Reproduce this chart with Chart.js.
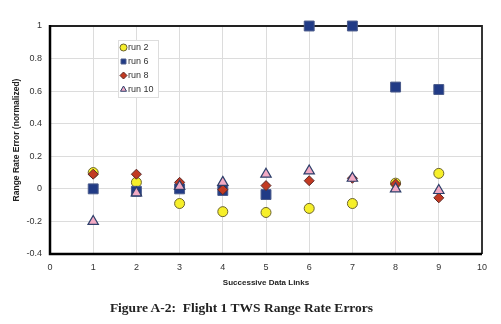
<!DOCTYPE html>
<html>
<head>
<meta charset="utf-8">
<script src="https://cdn.jsdelivr.net/npm/chart.js@4/dist/chart.umd.min.js"></script>
<style>
  body { margin: 0; background: #fff; }
  #wrap { position: relative; width: 501px; height: 324px; }
  #caption {
    position: absolute; left: 0; width: 483px; top: 300px;
    text-align: center; font: bold 13.5px "Liberation Serif", "Times New Roman", serif; color: #222;
  }
</style>
</head>
<body>
<div id="wrap">
  <canvas id="chart" width="501" height="324"></canvas>
  <div id="caption">Figure A-2:&nbsp; Flight 1 TWS Range Rate Errors</div>
</div>
<script>
// Данные.
const links = [1, 2, 3, 4, 5, 6, 7, 8, 9];
const run2 = [0.10, 0.04, -0.09, -0.14, -0.145, -0.12, -0.09, 0.035, 0.095];
const run6 = [0, -0.015, 0, -0.01, -0.035, 1, 1, 0.625, 0.61];
const run8 = [0.09, 0.09, 0.04, -0.005, 0.02, 0.05, 0.065, 0.03, -0.055];
const run10 = [-0.2, -0.025, 0.015, 0.04, 0.09, 0.11, 0.065, 0, -0.01];

const xTicks = [0, 1, 2, 3, 4, 5, 6, 7, 8, 9, 10];
const yTicks = [-0.4, -0.2, 0, 0.2, 0.4, 0.6, 0.8, 1];

function pts(values) {
  return links.map((x, i) => ({ x: x, y: values[i] }));
}

// Рамка графика.
const frame = {
  id: 'frame',
  beforeDatasetsDraw(chart) {
    const { ctx, chartArea: a } = chart;
    ctx.save();
    ctx.strokeStyle = '#222';
    ctx.lineWidth = 1.8;
    ctx.beginPath();
    ctx.moveTo(a.left, a.top);
    ctx.lineTo(a.right, a.top);
    ctx.lineTo(a.right, a.bottom);
    ctx.stroke();
    ctx.strokeStyle = '#000';
    ctx.lineWidth = 2.5;
    ctx.beginPath();
    ctx.moveTo(a.left, a.top - 1);
    ctx.lineTo(a.left, a.bottom);
    ctx.lineTo(a.right, a.bottom);
    ctx.stroke();
    ctx.restore();
  }
};

// Легенда внутри поля графика.
const boxLegend = {
  id: 'boxLegend',
  afterDraw(chart) {
    const { ctx } = chart;
    const x0 = 118, y0 = 40, w = 40, h = 57;
    ctx.save();
    ctx.fillStyle = '#fff';
    ctx.fillRect(x0, y0, w, h);
    ctx.strokeStyle = '#ddd';
    ctx.lineWidth = 1;
    ctx.strokeRect(x0 + 0.5, y0 + 0.5, w, h);
    ctx.font = '9px "Liberation Sans", Arial, sans-serif';
    ctx.textBaseline = 'middle';
    chart.data.datasets.forEach((ds, i) => {
      const y = y0 + 7.5 + i * 14;
      ctx.fillStyle = ds.backgroundColor;
      ctx.strokeStyle = ds.borderColor;
      ctx.lineWidth = 1;
      Chart.helpers.drawPoint(ctx, { pointStyle: ds.pointStyle, radius: 3.5, rotation: 0, borderWidth: 1 }, x0 + 5.5, y);
      ctx.fillStyle = '#333';
      ctx.fillText(ds.label, x0 + 10, y);
    });
    ctx.restore();
  }
};

const ctx = document.getElementById('chart').getContext('2d');
new Chart(ctx, {
  type: 'scatter',
  data: {
    datasets: [
      { label: 'run 2', data: pts(run2), pointStyle: 'circle', pointRadius: 5,
        backgroundColor: '#f6ef2a', borderColor: '#6b6330', borderWidth: 1, order: 4, clip: false },
      { label: 'run 6', data: pts(run6), pointStyle: 'rect', pointRadius: 7,
        backgroundColor: '#213b86', borderColor: '#4a5a8a', borderWidth: 1, order: 3, clip: false },
      { label: 'run 8', data: pts(run8), pointStyle: 'rectRot', pointRadius: 5,
        backgroundColor: '#c23a22', borderColor: '#5a2a2a', borderWidth: 1, order: 2, clip: false },
      { label: 'run 10', data: pts(run10), pointStyle: 'triangle', pointRadius: 6,
        backgroundColor: '#f2aac4', borderColor: '#2d3f6a', borderWidth: 1.2, order: 1, clip: false }
    ]
  },
  options: {
    responsive: false,
    animation: false,
    layout: { padding: { left: 0, top: 26, right: 19, bottom: 30 } },
    plugins: { legend: { display: false }, tooltip: { enabled: false } },
    scales: {
      x: {
        type: 'linear', min: 0, max: 10,
        afterFit(s) { s.height = 40; },
        afterBuildTicks(s) { s.ticks = xTicks.map(v => ({ value: v })); },
        border: { display: false },
        grid: { color: '#dcdcdc', drawTicks: false },
        ticks: { padding: 8, color: '#333', font: { size: 9, family: '"Liberation Sans", Arial, sans-serif' } },
        title: { display: true, text: 'Successive Data Links', color: '#222',
          padding: { bottom: 6 }, font: { size: 8, weight: 'bold', family: '"Liberation Sans", Arial, sans-serif' } }
      },
      y: {
        type: 'linear', min: -0.4, max: 1,
        afterFit(s) { s.width = 50; },
        afterBuildTicks(s) { s.ticks = yTicks.map(v => ({ value: v })); },
        border: { display: false },
        grid: { color: '#dcdcdc', drawTicks: false },
        ticks: { padding: 8, color: '#333', font: { size: 9, family: '"Liberation Sans", Arial, sans-serif' },
          callback: v => String(+v.toFixed(1)) },
        title: { display: true, text: 'Range Rate Error (normalized)', color: '#222',
          padding: { top: 12 }, font: { size: 8.5, weight: 'bold', family: '"Liberation Sans", Arial, sans-serif' } }
      }
    }
  },
  plugins: [frame, boxLegend]
});
</script>
</body>
</html>
